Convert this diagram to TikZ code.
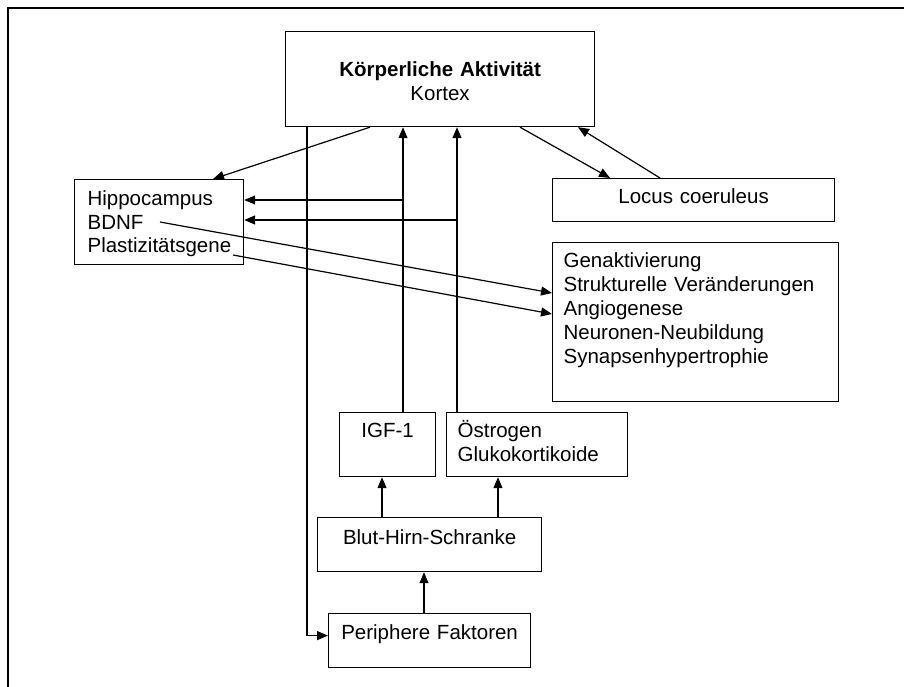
\documentclass[tikz,border=0pt]{standalone}
\usepackage{fontspec}
\setmainfont{Liberation Sans}
\usetikzlibrary{arrows.meta, positioning}

\begin{document}
\begin{tikzpicture}[x=1pt, y=-1pt,
    font=\fontsize{20.5}{23.5}\selectfont,
    line width=1.2pt,
    >={Triangle[length=11pt, width=9pt]},
    box/.style={draw, anchor=north west, inner ysep=0pt, inner xsep=0pt}]
    \useasboundingbox (0,0) rectangle (904,687);
    % frame
    \draw[line width=1.6pt] (8,687) -- (8,8) -- (904,8);

    % Add the boxes
        \node[box,
              text width=309pt,
              align=center,
              text height=45pt,
              text depth=50pt,
              font=\fontsize{20.5}{24}\selectfont] (kortex) at (285,31)
              {\textbf{Körperliche Aktivität}\\Kortex};
        \node[box,
              inner xsep=13pt,
              text width=143pt,
              align=left,
              text height=26pt,
              text depth=59pt] (hippo) at (74,179)
              {Hippocampus\\BDNF\\Plastizitätsgene};
        \node[box,
              text width=282pt,
              align=center,
              text height=25pt,
              text depth=18pt] (locus) at (552,178) {Locus coeruleus};
        \node[box,
              inner xsep=11pt,
              text width=264pt,
              align=left,
              text height=25pt,
              text depth=134pt,
              font=\fontsize{20.5}{24}\selectfont] (gen) at (552,242)
              {Genaktivierung\\Strukturelle Veränderungen\\Angiogenese\\Neuronen-Neubildung\\Synapsenhypertrophie};
        \node[box,
              text width=96pt,
              align=center,
              text height=25pt,
              text depth=39pt] (igf) at (339,412) {IGF-1};
        \node[box,
              inner xsep=11pt,
              text width=159pt,
              align=left,
              text height=25pt,
              text depth=39pt] (oestr) at (446,412) {Östrogen\\Glukokortikoide};
        \node[box,
              text width=224pt,
              align=center,
              text height=27pt,
              text depth=27pt] (bhs) at (317,517) {Blut-Hirn-Schranke};
        \node[box,
              text width=202pt,
              align=center,
              text height=26pt,
              text depth=28pt] (periph) at (328,613) {Periphere Faktoren};

    % branch points and line starts
        \coordinate (igfup) at (403,200);
        \coordinate (oestrup) at (457,220);
        \coordinate (bdnf) at (160,222);
        \coordinate (plast) at (233,255);

 \path[->]
        ([xshift=85pt]kortex.south west) edge ([xshift=139pt]hippo.north west)
        ([xshift=235pt]kortex.south west) edge ([xshift=58pt]locus.north west)
        ([xshift=108pt]locus.north west) edge ([xshift=293pt]kortex.south west)
        ([xshift=64pt]igf.north west) edge ([xshift=118pt]kortex.south west)
        ([xshift=11pt]oestr.north west) edge ([xshift=172pt]kortex.south west)
        (igfup) edge (igfup -| hippo.east)
        (oestrup) edge (oestrup -| hippo.east)
        (bdnf) edge ([yshift=-51pt]gen.north west)
        (plast) edge ([yshift=-72pt]gen.north west)
        ([xshift=65pt]bhs.north west) edge ([xshift=43pt]igf.south west)
        ([xshift=181pt]bhs.north west) edge ([xshift=52pt]oestr.south west)
        ([xshift=96pt]periph.north west) edge ([xshift=107pt]bhs.south west)
        ;
 \draw[->] ([xshift=22pt]kortex.south west) |- ([yshift=5pt]periph.west);
\end{tikzpicture}
\end{document}
